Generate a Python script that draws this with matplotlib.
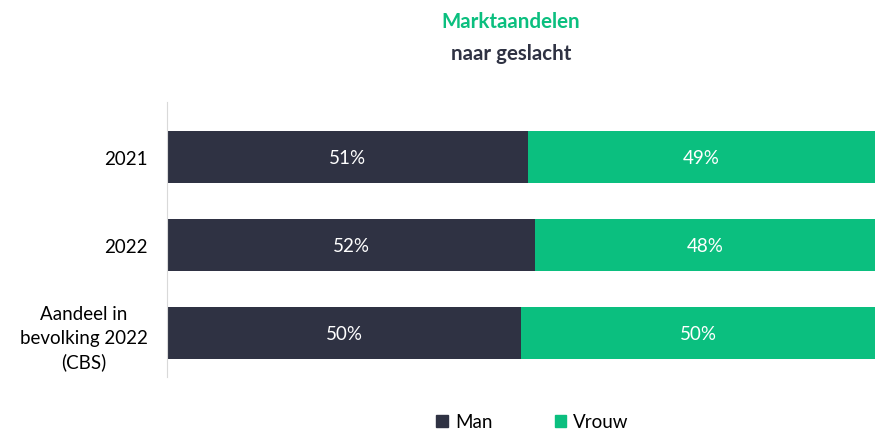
import matplotlib.pyplot as plt
from matplotlib.patches import Patch

plt.rcParams['font.family'] = ['Lato', 'DejaVu Sans']

categories = ['2021', '2022', 'Aandeel in\nbevolking 2022\n(CBS)']
man = [51, 52, 50]
vrouw = [49, 48, 50]

kleur_man = '#2f3243'
kleur_vrouw = '#0bbf7f'
kleur_tekst = '#2f3243'


def main():
    fig = plt.figure(figsize=(8.79, 4.35), dpi=100)
    ax = fig.add_axes([0.19, 0.131, 0.8055, 0.632])

    pos = list(range(len(categories)))
    ax.barh(pos, man, height=0.59, color=kleur_man)
    ax.barh(pos, vrouw, left=man, height=0.59, color=kleur_vrouw)

    for i in pos:
        ax.text(man[i] / 2, i, str(man[i]) + '%', ha='center', va='center',
                color='white', fontsize=13.5)
        ax.text(man[i] + vrouw[i] / 2, i, str(vrouw[i]) + '%', ha='center',
                va='center', color='white', fontsize=13.5)

    ax.set_xlim(0, 100)
    ax.set_ylim(2.5, -0.625)
    ax.set_yticks(pos)
    ax.set_yticklabels(categories, fontsize=13.5, color='black',
                       linespacing=1.45, multialignment='center')
    ax.set_xticks([])
    ax.tick_params(axis='y', length=0, pad=14)
    for s in ['top', 'right', 'bottom']:
        ax.spines[s].set_visible(False)
    ax.spines['left'].set_color('#d9d9d9')

    fig.text(0.581, 0.95, 'Marktaandelen', ha='center', va='center',
             fontsize=14.8, fontweight='bold', color=kleur_vrouw)
    fig.text(0.581, 0.876, 'naar geslacht', ha='center', va='center',
             fontsize=14.8, fontweight='bold', color=kleur_tekst)

    handles = [Patch(color=kleur_man, label='Man'),
               Patch(color=kleur_vrouw, label='Vrouw')]
    fig.legend(handles=handles, loc='center', bbox_to_anchor=(0.606, 0.028),
               ncol=2, frameon=False, fontsize=13.5, handlelength=0.6,
               handleheight=0.6, handletextpad=0.4, columnspacing=3.3)

    fig.savefig('out.png', dpi=100)


main()
